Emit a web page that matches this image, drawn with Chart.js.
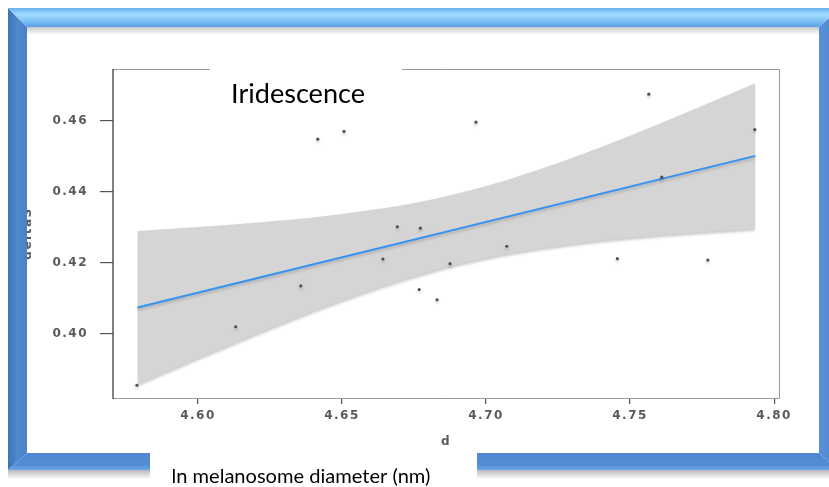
<!DOCTYPE html>
<html>
<head>
<meta charset="utf-8">
<script src="https://cdn.jsdelivr.net/npm/chart.js@4.4.1/dist/chart.umd.min.js"></script>
<style>
  html, body { margin: 0; padding: 0; background: #ffffff; }
  #wrap { position: relative; width: 829px; height: 487px; overflow: hidden; }
</style>
</head>
<body>
<div id="wrap"><canvas id="iriChart" width="829" height="487"></canvas></div>
<script>
// 観測点 (ln melanosome diameter, deltaS)
const xValues = [4.5788, 4.6131, 4.6357, 4.6416, 4.6507, 4.6642, 4.6692, 4.6768, 4.6772,
  4.6830, 4.6875, 4.6965, 4.7072, 4.7456, 4.7565, 4.7610, 4.7770, 4.7933];
const yValues = [0.3854, 0.4019, 0.4134, 0.4548, 0.4570, 0.4210, 0.4301, 0.4124, 0.4297,
  0.4095, 0.4197, 0.4596, 0.4246, 0.4211, 0.4675, 0.4441, 0.4207, 0.4575];

// 回帰直線
const fitX = [4.579, 4.7935];
const fitY = [0.4073, 0.4501];

// 信頼区間（グレーの帯）
const bandX = [4.579, 4.60, 4.62, 4.64, 4.66, 4.68, 4.70, 4.72, 4.74, 4.76, 4.7935];
const bandUpper = [0.4289, 0.4300, 0.4312, 0.4327, 0.4348, 0.4376, 0.4416, 0.4467, 0.4526, 0.4591, 0.4706];
const bandLower = [0.3857, 0.3930, 0.3998, 0.4063, 0.4122, 0.4173, 0.4213, 0.4241, 0.4262, 0.4277, 0.4296];

// 目盛り
const xTicks = [4.60, 4.65, 4.70, 4.75, 4.80];
const yTicks = [0.40, 0.42, 0.44, 0.46];

const titleText = 'Iridescence';
const xAxisLabel = 'd';
const yAxisLabel = 'deltaS';
const captionText = 'ln melanosome diameter (nm)';

const toPoints = (xs, ys) => xs.map((x, i) => ({ x: x, y: ys[i] }));

// 文字幅に合わせてフォントサイズを決める
function fitFont(ctx, text, family, targetWidth) {
  ctx.font = '100px ' + family;
  const w = ctx.measureText(text).width;
  return 100 * targetWidth / w;
}

// パネル枠線
const panelBorder = {
  id: 'panelBorder',
  beforeDraw(chart) {
    const ctx = chart.ctx;
    ctx.save();
    ctx.fillStyle = '#ffffff';
    ctx.fillRect(0, 0, chart.width, chart.height);
    ctx.restore();
  },
  beforeDatasetsDraw(chart) {
    const { ctx, chartArea: a } = chart;
    ctx.save();
    ctx.lineWidth = 1;
    ctx.strokeStyle = '#9a9a9a';
    ctx.beginPath();
    ctx.moveTo(a.left, a.top + 0.5);
    ctx.lineTo(a.right + 0.5, a.top + 0.5);
    ctx.lineTo(a.right + 0.5, a.bottom + 0.5);
    ctx.lineTo(a.left, a.bottom + 0.5);
    ctx.stroke();
    ctx.strokeStyle = '#4a4a4a';
    ctx.lineWidth = 1.4;
    ctx.beginPath();
    ctx.moveTo(a.left, a.top);
    ctx.lineTo(a.left, a.bottom + 1);
    ctx.stroke();
    ctx.restore();
    // 影
    ctx.shadowColor = 'rgba(0,0,0,0.22)';
    ctx.shadowBlur = 3;
    ctx.shadowOffsetY = 2;
  },
  afterDatasetsDraw(chart) {
    const ctx = chart.ctx;
    ctx.shadowColor = 'rgba(0,0,0,0)';
    ctx.shadowBlur = 0;
    ctx.shadowOffsetY = 0;
  }
};

// 青い額縁とテキスト
const frameDecor = {
  id: 'frameDecor',
  afterDraw(chart) {
    const ctx = chart.ctx;
    const W = chart.width;
    ctx.save();
    ctx.letterSpacing = '0px';

    // 上辺の下の影
    let g = ctx.createLinearGradient(0, 27, 0, 35);
    g.addColorStop(0, 'rgba(0,0,0,0.22)');
    g.addColorStop(1, 'rgba(0,0,0,0)');
    ctx.fillStyle = g;
    ctx.fillRect(27, 27, 792, 8);

    // 下辺の下の影
    g = ctx.createLinearGradient(0, 470, 0, 479);
    g.addColorStop(0, 'rgba(0,0,0,0.28)');
    g.addColorStop(1, 'rgba(0,0,0,0)');
    ctx.fillStyle = g;
    ctx.fillRect(8, 470, W, 9);

    // 左辺
    g = ctx.createLinearGradient(8, 0, 27, 0);
    g.addColorStop(0, '#3f74ba');
    g.addColorStop(0.5, '#4f88cc');
    g.addColorStop(1, '#4a82c6');
    ctx.fillStyle = g;
    ctx.beginPath();
    ctx.moveTo(8, 8); ctx.lineTo(27, 27); ctx.lineTo(27, 453); ctx.lineTo(8, 470);
    ctx.closePath(); ctx.fill();

    // 右辺
    g = ctx.createLinearGradient(819, 0, 838, 0);
    g.addColorStop(0, '#5690d6');
    g.addColorStop(1, '#4d86cc');
    ctx.fillStyle = g;
    ctx.beginPath();
    ctx.moveTo(840, 8); ctx.lineTo(819, 27); ctx.lineTo(819, 453); ctx.lineTo(838, 470);
    ctx.closePath(); ctx.fill();

    // 上辺
    g = ctx.createLinearGradient(0, 8, 0, 27);
    g.addColorStop(0, '#69b0f0');
    g.addColorStop(0.35, '#a3dcff');
    g.addColorStop(0.7, '#7cc0f6');
    g.addColorStop(1, '#5b9de6');
    ctx.fillStyle = g;
    ctx.beginPath();
    ctx.moveTo(8, 8); ctx.lineTo(840, 8); ctx.lineTo(819, 27); ctx.lineTo(27, 27);
    ctx.closePath(); ctx.fill();

    // 下辺
    g = ctx.createLinearGradient(0, 453, 0, 470);
    g.addColorStop(0, '#4f88d0');
    g.addColorStop(0.7, '#548dd4');
    g.addColorStop(1, '#6aa7e8');
    ctx.fillStyle = g;
    ctx.beginPath();
    ctx.moveTo(8, 470); ctx.lineTo(27, 453); ctx.lineTo(819, 453); ctx.lineTo(838, 470);
    ctx.closePath(); ctx.fill();

    // 下のキャプション用の白い箱
    ctx.fillStyle = '#ffffff';
    ctx.fillRect(150, 453, 327, 40);

    // タイトル用の白い箱
    ctx.fillRect(210, 60, 192, 52);

    // タイトル
    ctx.fillStyle = '#000000';
    ctx.textAlign = 'left';
    ctx.textBaseline = 'alphabetic';
    let size = fitFont(ctx, titleText, 'Lato', 134);
    ctx.font = size.toFixed(2) + 'px Lato';
    ctx.fillText(titleText, 231, 103);

    // キャプション
    size = fitFont(ctx, captionText, 'Lato', 259);
    ctx.font = size.toFixed(2) + 'px Lato';
    ctx.fillText(captionText, 171.5, 482.5);
    ctx.restore();
  }
};

const tickFont = { family: 'DejaVu Sans', size: 12, weight: 'bold' };
const tickColor = '#5a5a5a';

const ctx = document.getElementById('iriChart');
const iriChart = new Chart(ctx, {
  type: 'scatter',
  data: {
    datasets: [
      {
        label: 'points',
        data: toPoints(xValues, yValues),
        pointRadius: 1.6,
        pointBackgroundColor: '#505050',
        pointBorderWidth: 0,
        showLine: false
      },
      {
        label: 'fit',
        data: toPoints(fitX, fitY),
        showLine: true,
        borderColor: '#3592f2',
        borderWidth: 2,
        pointRadius: 0,
        fill: false
      },
      {
        label: 'lower',
        data: toPoints(bandX, bandLower),
        showLine: true,
        borderWidth: 0,
        borderColor: 'rgba(0,0,0,0)',
        pointRadius: 0,
        cubicInterpolationMode: 'monotone',
        fill: false
      },
      {
        label: 'upper',
        data: toPoints(bandX, bandUpper),
        showLine: true,
        borderWidth: 0,
        borderColor: 'rgba(0,0,0,0)',
        backgroundColor: '#d5d5d5',
        pointRadius: 0,
        cubicInterpolationMode: 'monotone',
        fill: '-1'
      }
    ]
  },
  options: {
    responsive: false,
    animation: false,
    devicePixelRatio: 1,
    layout: { padding: { left: 0, top: 69, right: 50, bottom: 0 } },
    plugins: {
      legend: { display: false },
      tooltip: { enabled: false },
      title: { display: false }
    },
    scales: {
      x: {
        type: 'linear',
        min: 4.5705,
        max: 4.8017,
        afterFit: (scale) => { scale.height = 89; },
        afterBuildTicks: (scale) => { scale.ticks = xTicks.map(v => ({ value: v })); },
        border: { display: false },
        grid: { drawOnChartArea: false, drawTicks: true, tickLength: 6, color: '#555555', lineWidth: 1.2 },
        ticks: {
          padding: 5,
          font: tickFont,
          color: tickColor,
          callback: (v) => Number(v).toFixed(2)
        },
        title: {
          display: true,
          text: xAxisLabel,
          font: tickFont,
          color: tickColor,
          padding: { top: 0, bottom: 38 }
        }
      },
      y: {
        type: 'linear',
        min: 0.3818,
        max: 0.4746,
        afterFit: (scale) => { scale.width = 113; },
        afterBuildTicks: (scale) => { scale.ticks = yTicks.map(v => ({ value: v })); },
        border: { display: false },
        grid: { drawOnChartArea: false, drawTicks: true, tickLength: 13, color: '#555555', lineWidth: 1.2 },
        ticks: {
          padding: 12,
          font: tickFont,
          color: tickColor,
          callback: (v) => Number(v).toFixed(2)
        },
        title: {
          display: true,
          text: yAxisLabel,
          font: tickFont,
          color: tickColor,
          padding: { top: 21, bottom: 0 }
        }
      }
    }
  },
  plugins: [panelBorder, frameDecor, {
    id: 'stretchText',
    beforeDraw(chart) { chart.ctx.letterSpacing = '1.5px'; }
  }]
});
</script>
</body>
</html>
